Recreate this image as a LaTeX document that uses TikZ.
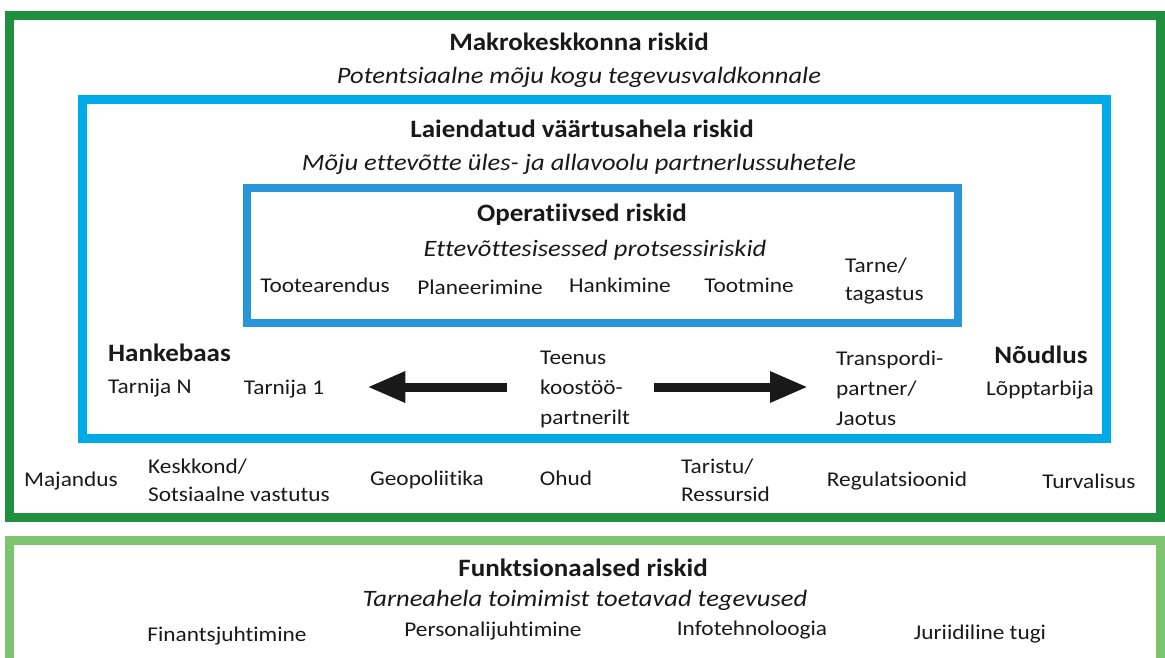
\documentclass[tikz,border=0pt]{standalone}
\usepackage{fontspec}
\setmainfont{Carlito}[Ligatures=NoCommon]
\newfontfamily\bodyf{Carlito}[Ligatures=NoCommon,FakeStretch=1.11]
\newfontfamily\ttlf{Carlito}[Ligatures=NoCommon,FakeStretch=1.08]
\newfontfamily\subf{Carlito}[Ligatures=NoCommon,FakeStretch=1.13]
\usetikzlibrary{arrows.meta}
\definecolor{dkgreen}{HTML}{1E9040}
\definecolor{ltgreen}{HTML}{7DC46E}
\definecolor{oblue}{HTML}{00AAE6}
\definecolor{iblue}{HTML}{2896D8}
\begin{document}
\begin{tikzpicture}[x=1pt,y=-1pt,
  txt/.style={inner sep=0pt,font=\bodyf\fontsize{21}{28}\selectfont,text=black!90},
  ttl/.style={txt,font=\ttlf\bfseries\fontsize{25}{28}\selectfont},
  sub/.style={txt,font=\subf\itshape\fontsize{23.5}{28}\selectfont},
  ml/.style={txt,align=left,anchor=north west},
  ml3/.style={ml,font=\bodyf\fontsize{21}{30}\selectfont},
  bigarrow/.style={line width=9pt,-{Triangle[length=38pt,width=29pt]},black!90}]
\useasboundingbox (0,0) rectangle (1165,657);
\clip (0,0) rectangle (1165,657);
% frames
\draw[dkgreen,line width=9pt] (9.5,15.5) rectangle (1160.5,517.5);
\draw[ltgreen,line width=9pt] (9.5,540) rectangle (1160.5,720);
\draw[oblue,line width=9pt] (82.5,99.5) rectangle (1106,438);
\draw[iblue,line width=8pt] (247,188) rectangle (957.5,323);
% macro
\node[ttl] (makro) at (579,42) {Makrokeskkonna riskid};
\node[sub] (makrosub) at (579,77) {Potentsiaalne mõju kogu tegevusvaldkonnale};
% extended
\node[ttl] (laiend) at (582,129) {Laiendatud väärtusahela riskid};
\node[sub] (laiendsub) at (579,164) {Mõju ettevõtte üles- ja allavoolu partnerlussuhetele};
% operational
\node[ttl] (oper) at (582,215) {Operatiivsed riskid};
\node[sub] (opersub) at (595,250) {Ettevõttesisessed protsessiriskid};
\node[txt] (toote) at (325,285) {Tootearendus};
\node[txt] (plan) at (480,287) {Planeerimine};
\node[txt] (hank) at (620,285) {Hankimine};
\node[txt] (tootm) at (749,285) {Tootmine};
\node[ml] (tarne) at (845,258) {Tarne/\\tagastus};
% supply chain row
\node[ttl,anchor=west] (hankebaas) at (108,353) {Hankebaas};
\node[txt,anchor=west] (tarnN) at (108,388) {Tarnija N};
\node[txt] (tarn1) at (284,389) {Tarnija 1};
\node[ml3] (teenus) at (540,351) {Teenus\\koostöö-\\partnerilt};
\node[ml3] (transp) at (836,351) {Transpordi-\\partner/\\Jaotus};
\node[ttl] (noudlus) at (1041,355) {Nõudlus};
\node[txt] (lopp) at (1040,390) {Lõpptarbija};
\draw[bigarrow,shorten <=33pt,shorten >=43pt] (teenus.west |- 0,387) -- (tarn1.east |- 0,387);
\draw[bigarrow,shorten <=24pt,shorten >=28pt] (teenus.east |- 0,387) -- (transp.west |- 0,387);
% macro factors
\node[txt] (maj) at (71,481) {Majandus};
\node[ml] (kesk) at (148,459) {Keskkond/\\Sotsiaalne vastutus};
\node[txt] (geo) at (427,480) {Geopoliitika};
\node[txt] (ohud) at (566,478) {Ohud};
\node[ml] (tarist) at (681,459) {Taristu/\\Ressursid};
\node[txt] (reg) at (897,481) {Regulatsioonid};
\node[txt] (turv) at (1089,481) {Turvalisus};
% functional
\node[ttl] (funk) at (583,568) {Funktsionaalsed riskid};
\node[sub] (funksub) at (585,600) {Tarneahela toimimist toetavad tegevused};
\node[txt] (fin) at (227,636) {Finantsjuhtimine};
\node[txt] (pers) at (493,631) {Personalijuhtimine};
\node[txt] (info) at (752,630) {Infotehnoloogia};
\node[txt] (jur) at (980,634) {Juriidiline tugi};
\end{tikzpicture}
\end{document}
